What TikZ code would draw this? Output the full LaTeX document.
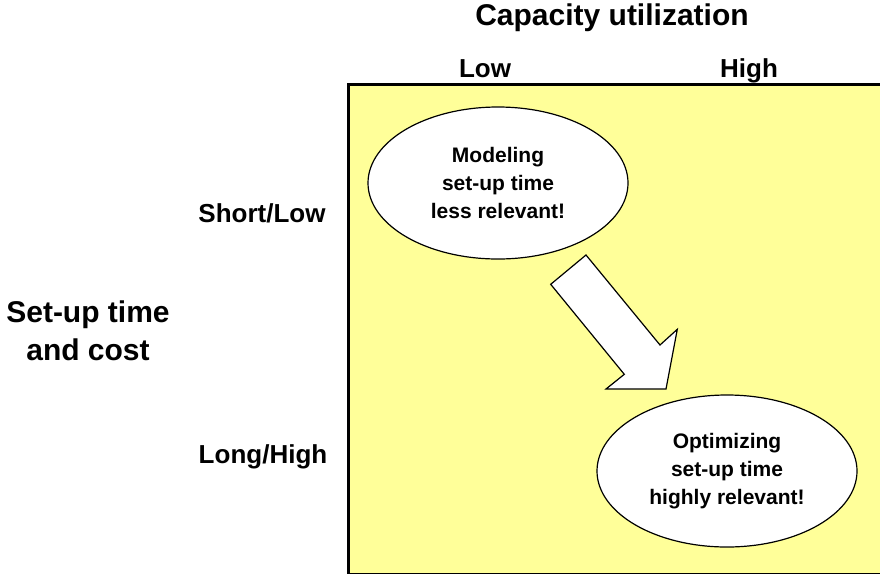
\documentclass[tikz,border=0pt]{standalone}
\usepackage{fontspec}
\setmainfont{Liberation Sans}
\usepackage{tikz}
\usetikzlibrary{positioning,shapes.geometric}
\definecolor{pad}{HTML}{FFFF99}
\tikzset{
  oval/.style={ellipse,draw=black,fill=white,line width=1.2pt,align=center,
    minimum width=260pt,minimum height=152pt,inner sep=0pt,
    font=\fontsize{21}{28}\selectfont\bfseries},
  axis/.style={anchor=base,font=\fontsize{26}{30}\selectfont\bfseries},
  head/.style={align=center,font=\fontsize{30}{38}\selectfont\bfseries},
  blk/.style={draw=black,fill=white,line width=1.2pt,line join=miter},
}
\begin{document}
\begin{tikzpicture}[x=1pt,y=-1pt]
  \useasboundingbox (0,0) rectangle (880,574);
  \node[draw=black,fill=pad,line width=1pt,inner sep=0pt,anchor=north west,
    minimum width=531pt,minimum height=488pt] (grid) at (348.5,84.5) {};
  \draw[line width=3pt] (grid.south west) -- (grid.north west) -- (grid.north east);
  \node[head] (title) at (612,18) {Capacity utilization};
  \node[axis] (low) at (485,77) {Low};
  \node[axis] (high) at (749,77) {High};
  \node[axis] (short) at (262,222) {Short/Low};
  \node[axis] (long) at (263,463) {Long/High};
  \node[head] (setup) at (88,331) {Set-up time\\and cost};
  \node[oval] (model) at (498,183) {Modeling\\set-up time\\less relevant!};
  \node[oval] (optim) at (727,471) {Optimizing\\set-up time\\highly relevant!};
  % block arrow
  \draw[blk] (586,255) -- (550.7,284.3) -- (624.3,374.3) -- (606,389)
    -- (666,389) -- (677.3,329.3) -- (660,345) -- cycle;
\end{tikzpicture}
\end{document}
